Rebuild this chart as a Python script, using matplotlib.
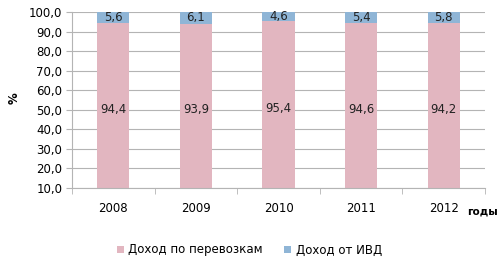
import matplotlib.pyplot as plt
import numpy as np

years = ["2008", "2009", "2010", "2011", "2012"]
transport = [94.4, 93.9, 95.4, 94.6, 94.2]
ivd = [5.6, 6.1, 4.6, 5.4, 5.8]
y_ticks = [10, 20, 30, 40, 50, 60, 70, 80, 90, 100]

pink = "#E2B6C0"
blue = "#8FB5D6"
grid_c = "#B4B4B4"

plt.rcParams["font.family"] = ["DejaVu Sans"]
fig = plt.figure(figsize=(4.99, 2.65), dpi=100)
ax = fig.add_axes([72 / 499, 1 - 188 / 265, 413 / 499, 176 / 265])

x = np.arange(len(years))
ax.bar(x, transport, width=0.39, color=pink, label="Доход по перевозкам", zorder=2)
ax.bar(x, ivd, width=0.39, bottom=transport, color=blue, label="Доход от ИВД", zorder=2)

for i in range(len(years)):
    ax.text(x[i], (10 + transport[i]) / 2 - 2, f"{transport[i]:.1f}".replace(".", ","),
            ha="center", va="center", fontsize=8.5, color="#222222", zorder=3)
    ax.text(x[i], transport[i] + ivd[i] / 2, f"{ivd[i]:.1f}".replace(".", ","),
            ha="center", va="center", fontsize=8.5, color="#222222", zorder=3)

ax.set_xlim(-0.5, len(years) - 0.5)
ax.set_ylim(10, 100)
ax.set_yticks(y_ticks)
ax.set_yticklabels([f"{v:.1f}".replace(".", ",") for v in y_ticks], fontsize=8.5)
ax.yaxis.grid(True, color=grid_c, linewidth=0.8, zorder=0)
ax.set_xticks(x)
ax.set_xticklabels(years, fontsize=8.5)
ax.set_xticks(np.arange(len(years) + 1) - 0.5, minor=True)
ax.tick_params(axis="x", which="major", length=0, pad=10)
ax.tick_params(axis="x", which="minor", length=4, color=grid_c)
ax.tick_params(axis="y", length=4, color=grid_c, pad=3)

for s in ["top", "right"]:
    ax.spines[s].set_visible(False)
for s in ["left", "bottom"]:
    ax.spines[s].set_color(grid_c)

fig.text(14 / 499, 1 - 98 / 265, "%", rotation=90, fontsize=8.5, fontweight="bold",
         ha="center", va="center")
fig.text(482 / 499, 1 - 212 / 265, "годы", fontsize=7.5, fontweight="bold",
         ha="center", va="center")

fig.legend(loc="center", bbox_to_anchor=(0.5, 1 - 250 / 265), ncol=2, frameon=False,
           fontsize=8.5, handlelength=0.6, handleheight=0.6, columnspacing=1.8,
           handletextpad=0.4)

fig.savefig("out.png", dpi=100)
